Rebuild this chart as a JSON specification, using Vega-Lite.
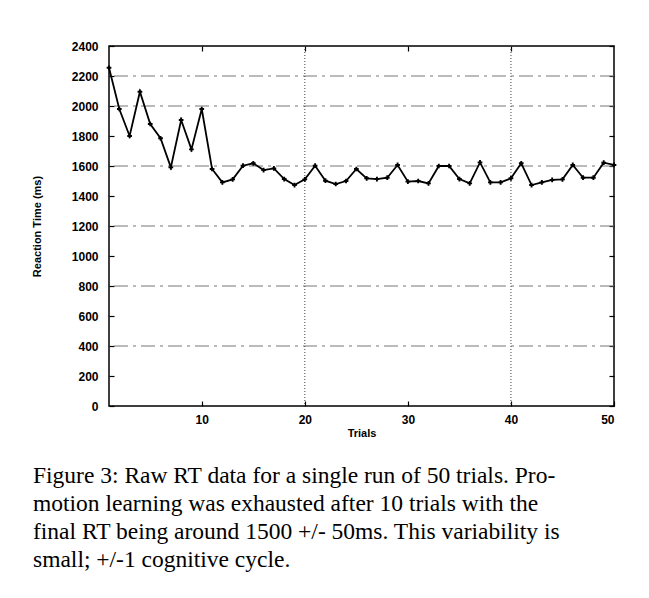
{
  "$schema": "https://vega.github.io/schema/vega-lite/v6.json",
  "width": 505,
  "height": 360,
  "autosize": {"type": "none"},
  "padding": {"left": 109, "top": 46, "right": 35, "bottom": 192},
  "background": "white",
  "title": {
    "text": [
      "Figure 3: Raw RT data for a single run of 50 trials. Pro-",
      "motion learning was exhausted after 10 trials with the",
      "final RT being around 1500 +/- 50ms. This variability is",
      "small; +/-1 cognitive cycle."
    ],
    "orient": "bottom",
    "anchor": "start",
    "frame": "group",
    "font": "Liberation Serif",
    "fontSize": 23.5,
    "fontWeight": "normal",
    "lineHeight": 28,
    "dx": -76,
    "offset": 26,
    "color": "black"
  },
  "config": {
    "view": {"stroke": "black", "strokeWidth": 1.5},
    "axis": {
      "labelFont": "Liberation Sans",
      "labelFontWeight": "bold",
      "labelFontSize": 12,
      "titleFont": "Liberation Sans",
      "titleFontWeight": "bold",
      "titleFontSize": 11,
      "domain": false,
      "grid": false,
      "tickColor": "black",
      "tickSize": -5,
      "tickWidth": 1.2,
      "labelColor": "black",
      "titleColor": "black",
      "format": "d"
    }
  },
  "datasets": {
    "rt": [
      {"trial": 1, "rt": 2255}, {"trial": 2, "rt": 1980}, {"trial": 3, "rt": 1800}, {"trial": 4, "rt": 2095}, {"trial": 5, "rt": 1880},
      {"trial": 6, "rt": 1785}, {"trial": 7, "rt": 1591}, {"trial": 8, "rt": 1907}, {"trial": 9, "rt": 1711}, {"trial": 10, "rt": 1980},
      {"trial": 11, "rt": 1580}, {"trial": 12, "rt": 1491}, {"trial": 13, "rt": 1511}, {"trial": 14, "rt": 1602}, {"trial": 15, "rt": 1618},
      {"trial": 16, "rt": 1573}, {"trial": 17, "rt": 1584}, {"trial": 18, "rt": 1513}, {"trial": 19, "rt": 1473}, {"trial": 20, "rt": 1511},
      {"trial": 21, "rt": 1602}, {"trial": 22, "rt": 1502}, {"trial": 23, "rt": 1480}, {"trial": 24, "rt": 1500}, {"trial": 25, "rt": 1580},
      {"trial": 26, "rt": 1518}, {"trial": 27, "rt": 1513}, {"trial": 28, "rt": 1522}, {"trial": 29, "rt": 1607}, {"trial": 30, "rt": 1496},
      {"trial": 31, "rt": 1500}, {"trial": 32, "rt": 1484}, {"trial": 33, "rt": 1600}, {"trial": 34, "rt": 1600}, {"trial": 35, "rt": 1513},
      {"trial": 36, "rt": 1484}, {"trial": 37, "rt": 1624}, {"trial": 38, "rt": 1491}, {"trial": 39, "rt": 1491}, {"trial": 40, "rt": 1518},
      {"trial": 41, "rt": 1618}, {"trial": 42, "rt": 1473}, {"trial": 43, "rt": 1491}, {"trial": 44, "rt": 1507}, {"trial": 45, "rt": 1511},
      {"trial": 46, "rt": 1607}, {"trial": 47, "rt": 1522}, {"trial": 48, "rt": 1522}, {"trial": 49, "rt": 1622}, {"trial": 50, "rt": 1607}
    ],
    "hgrid": [{"g": 400}, {"g": 800}, {"g": 1200}, {"g": 1600}, {"g": 2000}, {"g": 2200}],
    "vgrid": [{"v": 20}, {"v": 40}]
  },
  "layer": [
    {
      "data": {"name": "hgrid"},
      "mark": {"type": "rule", "color": "#777777", "strokeWidth": 1, "strokeDash": [14, 5, 3, 5]},
      "encoding": {
        "y": {"field": "g", "type": "quantitative", "scale": {"domain": [0, 2400], "nice": false},
              "axis": {"orient": "right", "values": [0,200,400,600,800,1000,1200,1400,1600,1800,2000,2200,2400], "labels": false, "title": null}}
      }
    },
    {
      "data": {"name": "vgrid"},
      "mark": {"type": "rule", "color": "#444444", "strokeWidth": 1, "strokeDash": [1, 2]},
      "encoding": {
        "x": {"field": "v", "type": "quantitative", "scale": {"domain": [1, 50], "nice": false},
              "axis": {"orient": "top", "values": [10, 20, 30, 40], "labels": false, "title": null}}
      }
    },
    {
      "data": {"name": "rt"},
      "mark": {"type": "line", "color": "black", "strokeWidth": 1.8},
      "encoding": {
        "x": {"field": "trial", "type": "quantitative", "scale": {"domain": [1, 50], "nice": false},
              "axis": {"orient": "bottom", "values": [10, 20, 30, 40, 50], "title": "Trials", "labelPadding": 13, "titlePadding": 2, "titleFontSize": 11}},
        "y": {"field": "rt", "type": "quantitative", "scale": {"domain": [0, 2400], "nice": false},
              "axis": {"orient": "left", "values": [0,200,400,600,800,1000,1200,1400,1600,1800,2000,2200,2400], "title": "Reaction Time (ms)", "labelPadding": 16, "titlePadding": 29, "titleFontSize": 11}}
      }
    },
    {
      "data": {"name": "rt"},
      "mark": {"type": "point", "shape": "cross", "filled": true, "color": "black", "size": 22, "opacity": 1},
      "encoding": {
        "x": {"field": "trial", "type": "quantitative", "scale": {"domain": [1, 50], "nice": false}, "axis": null},
        "y": {"field": "rt", "type": "quantitative", "scale": {"domain": [0, 2400], "nice": false}, "axis": null}
      }
    }
  ],
  "resolve": {"axis": {"x": "independent", "y": "independent"}}
}
